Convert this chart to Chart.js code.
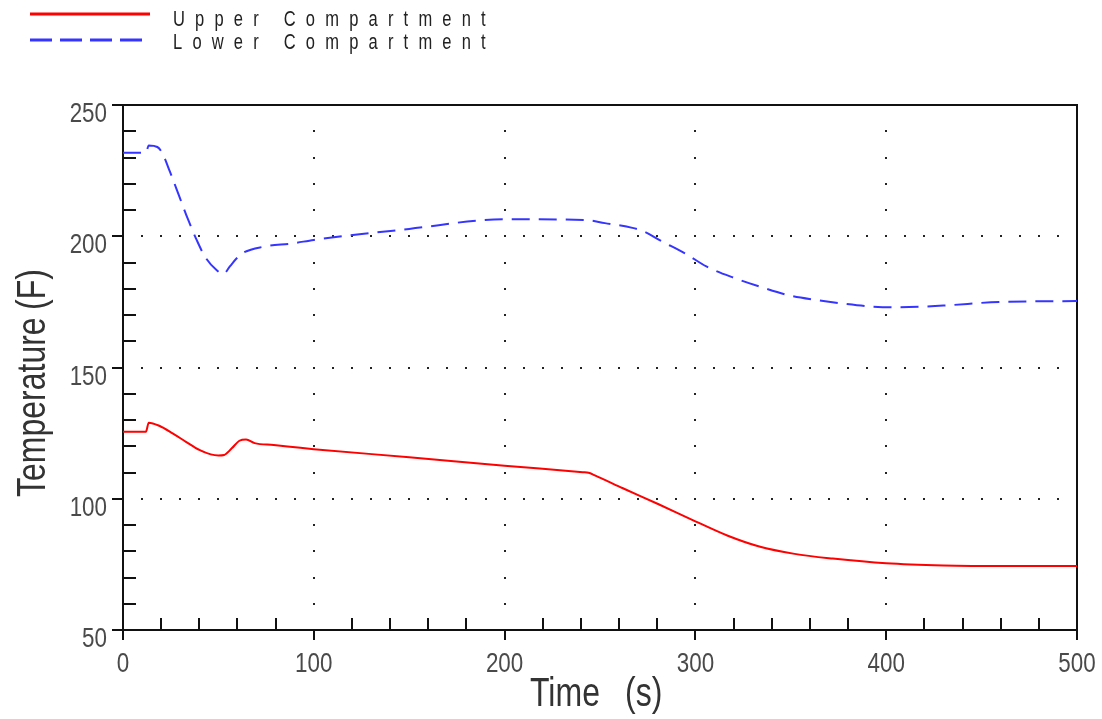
<!DOCTYPE html>
<html>
<head>
<meta charset="utf-8">
<title>Compartment Temperature</title>
<script src="https://cdn.jsdelivr.net/npm/chart.js@4.4.1/dist/chart.umd.min.js"></script>
<style>
  html, body { margin: 0; padding: 0; background: #fff; }
  canvas { display: block; }
</style>
</head>
<body>
<canvas id="my-chart" width="1102" height="719"></canvas>
<script>
const upperTime = [0, 12, 13.5, 19, 26, 33, 40, 46, 50, 53, 57, 61, 64.5, 69, 79, 93, 100, 150, 200, 241, 244, 247, 262, 281, 300, 317, 333, 352, 372, 400, 430, 465, 500];
const upperTemp = [125.5, 125.5, 129, 127.8, 124.9, 121.7, 118.6, 116.9, 116.5, 116.7, 119.2, 122.1, 122.6, 121.2, 120.5, 119.4, 118.9, 115.8, 112.6, 110.1, 109.9, 109.0, 104.0, 97.8, 91.4, 85.9, 81.9, 79, 77.2, 75.4, 74.6, 74.4, 74.4];
const lowerTime = [0, 12, 13.5, 18, 20.5, 24.6, 29.9, 34.2, 38.6, 43, 49, 52.6, 56, 59.6, 63, 73.5, 89, 100, 150, 200, 242, 252.6, 267, 274, 281, 294.5, 306, 320.8, 335, 349.6, 363.5, 379, 393, 405.5, 430, 460, 500];
const lowerTemp = [231.8, 231.8, 234.6, 234, 231.8, 224.6, 214.4, 206.2, 198.6, 192.2, 187.1, 185.6, 188.5, 191.6, 193.7, 196, 197.3, 198.6, 202.8, 206.5, 206.2, 205.0, 203.2, 201.5, 198.6, 193.5, 188.4, 184, 180.5, 177.4, 175.7, 174.2, 173.2, 172.9, 173.6, 175, 175.3];
const xTicks = [0, 100, 200, 300, 400, 500];
const yTicks = [50, 100, 150, 200, 250];
const seriesNames = ["Upper Compartment", "Lower Compartment"];
const xTitle = ["Time", "(s)"];
const yTitle = ["Temperature", "(F)"];

const family = "'Liberation Sans', Arial, sans-serif";
// the original lettering is a narrow face, so text is squeezed sideways
const squeeze = 0.8;

function toPoints(times, temps) {
    return times.map((t, i) => ({ x: t, y: temps[i] }));
}

function dot(ctx, px, py) {
    ctx.fillRect(Math.round(px) - 1, Math.round(py) - 1, 2, 2);
}

function narrowText(ctx, text, px, py, align) {
    ctx.save();
    ctx.translate(px, py);
    ctx.scale(squeeze, 1);
    ctx.textAlign = align;
    ctx.fillText(text, 0, 0);
    ctx.restore();
}

// dotted grid, frame and inside/outside tick marks
const frame = {
    id: "frame",
    beforeDatasetsDraw(chart) {
        const { ctx, chartArea: a, scales: { x, y } } = chart;
        ctx.save();
        ctx.fillStyle = "#222";
        xTicks.slice(1, -1).forEach(t => {
            for (let v = 60; v < 250; v += 10) dot(ctx, x.getPixelForValue(t), y.getPixelForValue(v));
        });
        yTicks.slice(1, -1).forEach(v => {
            for (let t = 10; t < 500; t += 10) dot(ctx, x.getPixelForValue(t), y.getPixelForValue(v));
        });

        ctx.strokeStyle = "#111";
        ctx.lineWidth = 2;
        ctx.strokeRect(a.left, a.top, a.right - a.left, a.bottom - a.top);

        ctx.beginPath();
        for (let v = 50; v <= 250; v += 10) {
            const py = Math.round(y.getPixelForValue(v));
            if (v % 50 === 0) {
                ctx.moveTo(a.left - 11, py);
                ctx.lineTo(a.left, py);
            } else {
                ctx.moveTo(a.left, py);
                ctx.lineTo(a.left + 13, py);
            }
        }
        for (let t = 0; t <= 500; t += 20) {
            const px = Math.round(x.getPixelForValue(t));
            if (t % 100 === 0) {
                ctx.moveTo(px, a.bottom);
                ctx.lineTo(px, a.bottom + 10);
            } else {
                ctx.moveTo(px, a.bottom);
                ctx.lineTo(px, a.bottom - 12);
            }
        }
        ctx.stroke();

        // tick labels, placed from the scales' own ticks
        ctx.fillStyle = "#4a4a4a";
        ctx.font = "28px " + family;
        ctx.textBaseline = "alphabetic";
        y.ticks.forEach(t => {
            narrowText(ctx, String(t.value), a.left - 16, y.getPixelForValue(t.value) + 17, "right");
        });
        x.ticks.forEach(t => {
            narrowText(ctx, String(t.value), x.getPixelForValue(t.value), a.bottom + 42, "center");
        });
        ctx.restore();
    },
    afterDraw(chart) {
        const ctx = chart.ctx;
        ctx.save();
        ctx.fillStyle = "#333";
        ctx.font = "40px " + family;
        ctx.textBaseline = "alphabetic";
        narrowText(ctx, xTitle[0], 530, 706, "left");
        narrowText(ctx, xTitle[1], 625, 706, "left");

        ctx.translate(45, 497);
        ctx.rotate(-Math.PI / 2);
        narrowText(ctx, yTitle[0], 0, 0, "left");
        narrowText(ctx, yTitle[1], 187, 0, "left");
        ctx.restore();

        // legend
        ctx.save();
        ctx.font = "22px " + family;
        ctx.fillStyle = "#222";
        const rows = [{ ly: 14, ty: 26 }, { ly: 40, ty: 49 }];
        chart.data.datasets.forEach((ds, i) => {
            ctx.beginPath();
            ctx.strokeStyle = ds.borderColor;
            ctx.lineWidth = 3;
            ctx.setLineDash(ds.borderDash ? [22, 8] : []);
            ctx.moveTo(30, rows[i].ly);
            ctx.lineTo(150, rows[i].ly);
            ctx.stroke();

            ctx.save();
            ctx.translate(173, rows[i].ty);
            ctx.scale(0.75, 1);
            ctx.letterSpacing = "13.6px";
            ctx.fillText(seriesNames[i], 0, 0);
            ctx.restore();
        });
        ctx.restore();
    }
};

const ctx = document.getElementById("my-chart").getContext("2d");

const myChart = new Chart(ctx, {
    type: "line",
    data: {
        datasets: [
            {
                label: seriesNames[0],
                data: toPoints(upperTime, upperTemp),
                borderColor: "#ff0000",
                borderWidth: 2,
                pointRadius: 0,
                cubicInterpolationMode: "monotone"
            },
            {
                label: seriesNames[1],
                data: toPoints(lowerTime, lowerTemp),
                borderColor: "#3535ff",
                borderWidth: 2,
                borderDash: [18, 9],
                pointRadius: 0,
                cubicInterpolationMode: "monotone"
            }
        ]
    },
    options: {
        responsive: false,
        animation: false,
        devicePixelRatio: 1,
        layout: { padding: { left: 0, top: 105, right: 25, bottom: 0 } },
        plugins: {
            legend: { display: false },
            tooltip: { enabled: false }
        },
        scales: {
            x: {
                type: "linear",
                min: 0,
                max: 500,
                grid: { display: false },
                border: { display: false },
                afterBuildTicks: scale => { scale.ticks = xTicks.map(v => ({ value: v })); },
                afterFit: scale => { scale.height = 89; },
                ticks: { display: false }
            },
            y: {
                min: 50,
                max: 250,
                grid: { display: false },
                border: { display: false },
                afterBuildTicks: scale => { scale.ticks = yTicks.map(v => ({ value: v })); },
                afterFit: scale => { scale.width = 123; },
                ticks: { display: false }
            }
        }
    },
    plugins: [frame]
});
</script>
</body>
</html>
